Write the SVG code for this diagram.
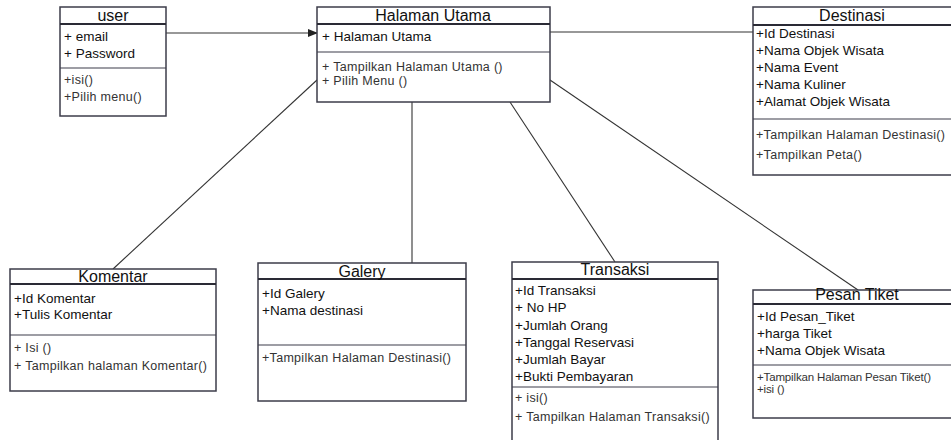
<svg xmlns="http://www.w3.org/2000/svg" width="951" height="440" viewBox="0 0 951 440">
  <style>
    .box { fill: #fff; stroke: #3c3c4a; stroke-width: 1.5; }
    .hdr { stroke: #2a2a35; stroke-width: 2; }
    .div { stroke: #3c3c4a; stroke-width: 1.2; }
    .title { font-family: "Liberation Sans", Arial, sans-serif; font-size: 16px; fill: #111; text-anchor: middle; }
    .attr { font-family: "Liberation Sans", Arial, sans-serif; font-size: 13.5px; fill: #111; }
    .meth { font-family: "Liberation Sans", Arial, sans-serif; font-size: 12.5px; fill: #333; letter-spacing: 0.3px; }
    .small { font-family: "Liberation Sans", Arial, sans-serif; font-size: 11.5px; fill: #333; letter-spacing: -0.15px; }
    .conn { stroke: #333; stroke-width: 1.1; fill: none; }
  </style>
  <defs>
    <marker id="arrow" markerWidth="10" markerHeight="8" refX="9" refY="4" orient="auto" markerUnits="userSpaceOnUse">
      <path d="M0,0 L10,4 L0,8 Z" fill="#222"/>
    </marker>
  </defs>
  <rect width="951" height="440" fill="#fff"/>

  <g id="connectors">
    <line class="conn" x1="166" y1="33" x2="317" y2="33" marker-end="url(#arrow)"/>
    <line class="conn" x1="550" y1="32" x2="753" y2="32"/>
    <line class="conn" x1="317" y1="80" x2="113" y2="269"/>
    <line class="conn" x1="412" y1="102" x2="412" y2="263"/>
    <line class="conn" x1="510" y1="102" x2="615" y2="262"/>
    <line class="conn" x1="550" y1="80" x2="858" y2="290"/>
  </g>

  <g id="user">
    <rect class="box" x="60" y="7" width="106" height="109"/>
    <line class="hdr" x1="60" y1="24" x2="166" y2="24"/>
    <line class="div" x1="60" y1="68" x2="166" y2="68"/>
    <text class="title" x="113" y="21">user</text>
    <text class="attr" x="64" y="41">+ email</text>
    <text class="attr" x="64" y="58">+ Password</text>
    <text class="meth" x="64" y="84">+isi()</text>
    <text class="meth" x="64" y="101">+Pilih menu()</text>
  </g>

  <g id="halaman-utama">
    <rect class="box" x="317" y="7" width="233" height="95"/>
    <line class="hdr" x1="317" y1="24" x2="550" y2="24"/>
    <line class="div" x1="317" y1="52" x2="550" y2="52"/>
    <text class="title" x="433" y="21">Halaman Utama</text>
    <text class="attr" x="322" y="41">+ Halaman Utama</text>
    <text class="meth" x="322" y="71">+ Tampilkan Halaman Utama ()</text>
    <text class="meth" x="322" y="85">+ Pilih Menu ()</text>
  </g>

  <g id="destinasi">
    <rect class="box" x="753" y="7" width="210" height="168"/>
    <line class="hdr" x1="753" y1="25" x2="963" y2="25"/>
    <line class="div" x1="753" y1="119" x2="963" y2="119"/>
    <text class="title" x="852" y="21">Destinasi</text>
    <text class="attr" x="756" y="38">+Id Destinasi</text>
    <text class="attr" x="756" y="55">+Nama Objek Wisata</text>
    <text class="attr" x="756" y="72">+Nama Event</text>
    <text class="attr" x="756" y="89">+Nama Kuliner</text>
    <text class="attr" x="756" y="106">+Alamat Objek Wisata</text>
    <text class="meth" x="756" y="139">+Tampilkan Halaman Destinasi()</text>
    <text class="meth" x="756" y="159">+Tampilkan Peta()</text>
  </g>

  <g id="komentar">
    <rect class="box" x="10" y="269" width="206" height="122"/>
    <line class="hdr" x1="10" y1="284" x2="216" y2="284"/>
    <line class="div" x1="10" y1="335" x2="216" y2="335"/>
    <text class="title" x="113" y="282">Komentar</text>
    <text class="attr" x="14" y="303">+Id Komentar</text>
    <text class="attr" x="14" y="319">+Tulis Komentar</text>
    <text class="meth" x="14" y="352">+ Isi ()</text>
    <text class="meth" x="14" y="370">+ Tampilkan halaman Komentar()</text>
  </g>

  <g id="galery">
    <rect class="box" x="258" y="263" width="208" height="138"/>
    <line class="hdr" x1="258" y1="279" x2="466" y2="279"/>
    <line class="div" x1="258" y1="345" x2="466" y2="345"/>
    <text class="title" x="362" y="277">Galery</text>
    <text class="attr" x="262" y="298">+Id Galery</text>
    <text class="attr" x="262" y="315">+Nama destinasi</text>
    <text class="meth" x="262" y="362">+Tampilkan Halaman Destinasi()</text>
  </g>

  <g id="transaksi">
    <rect class="box" x="512" y="262" width="206" height="185"/>
    <line class="hdr" x1="512" y1="279" x2="718" y2="279"/>
    <line class="div" x1="512" y1="387" x2="718" y2="387"/>
    <text class="title" x="615" y="275">Transaksi</text>
    <text class="attr" x="515" y="295">+Id Transaksi</text>
    <text class="attr" x="515" y="312">+ No HP</text>
    <text class="attr" x="515" y="330">+Jumlah Orang</text>
    <text class="attr" x="515" y="347">+Tanggal Reservasi</text>
    <text class="attr" x="515" y="364">+Jumlah Bayar</text>
    <text class="attr" x="515" y="381">+Bukti Pembayaran</text>
    <text class="meth" x="515" y="402">+ isi()</text>
    <text class="meth" x="515" y="421">+ Tampilkan Halaman Transaksi()</text>
  </g>

  <g id="pesan-tiket">
    <rect class="box" x="753" y="290" width="210" height="128"/>
    <line class="hdr" x1="753" y1="304" x2="963" y2="304"/>
    <line class="div" x1="753" y1="365" x2="963" y2="365"/>
    <text class="title" x="857" y="300">Pesan Tiket</text>
    <text class="attr" x="757" y="321">+Id Pesan_Tiket</text>
    <text class="attr" x="757" y="338">+harga Tiket</text>
    <text class="attr" x="757" y="355">+Nama Objek Wisata</text>
    <text class="small" x="757" y="381">+Tampilkan Halaman Pesan Tiket()</text>
    <text class="small" x="757" y="393">+isi ()</text>
  </g>
</svg>
